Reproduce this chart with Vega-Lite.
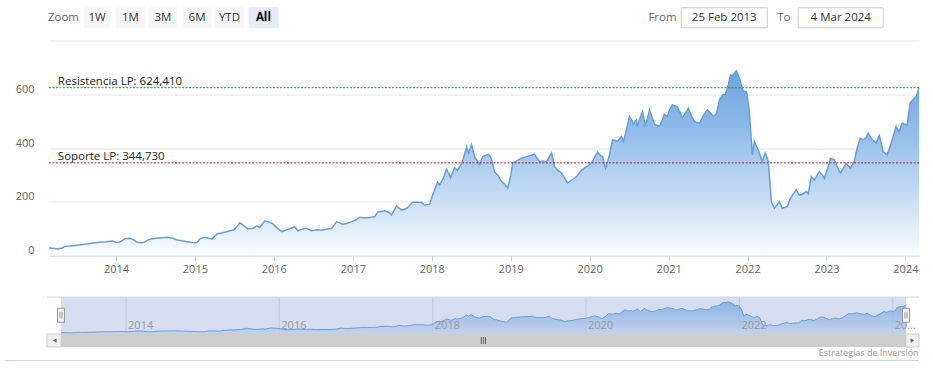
{
  "$schema": "https://vega.github.io/schema/vega-lite/v6.json",
  "width": 870,
  "height": 215,
  "autosize": {"type": "none"},
  "padding": {"left": 49, "top": 40.5, "right": 14, "bottom": 121.5},
  "background": "#ffffff",
  "config": {
    "view": {"stroke": null},
    "font": "Open Sans",
    "text": {"font": "Open Sans"},
    "axis": {"labelFont": "Open Sans"}
  },
  "datasets": {
    "main": [
      {"date":"2013-02-25","value":28},{"date":"2013-03-16","value":27},{"date":"2013-04-08","value":24},{"date":"2013-04-27","value":28},{"date":"2013-05-10","value":34},{"date":"2013-06-03","value":35},{"date":"2013-07-05","value":38},{"date":"2013-08-02","value":41},{"date":"2013-09-03","value":45},{"date":"2013-09-26","value":47},{"date":"2013-10-19","value":49},{"date":"2013-11-16","value":51},{"date":"2013-12-14","value":54},
      {"date":"2014-01-02","value":49},{"date":"2014-01-15","value":48},{"date":"2014-02-12","value":62},{"date":"2014-03-07","value":64},{"date":"2014-03-25","value":58},{"date":"2014-04-08","value":49},{"date":"2014-04-27","value":47},{"date":"2014-05-10","value":48},{"date":"2014-05-29","value":58},{"date":"2014-06-16","value":62},{"date":"2014-07-09","value":64},{"date":"2014-08-02","value":66},{"date":"2014-08-25","value":68},{"date":"2014-09-21","value":64},{"date":"2014-10-10","value":58},{"date":"2014-11-02","value":55},{"date":"2014-11-20","value":52},{"date":"2014-12-09","value":49},{"date":"2014-12-27","value":47},
      {"date":"2015-01-10","value":47},{"date":"2015-01-24","value":62},{"date":"2015-02-16","value":68},{"date":"2015-03-02","value":65},{"date":"2015-03-21","value":61},{"date":"2015-04-13","value":80},{"date":"2015-05-10","value":85},{"date":"2015-06-12","value":92},{"date":"2015-06-30","value":95},{"date":"2015-07-14","value":107},{"date":"2015-07-28","value":122},{"date":"2015-08-11","value":114},{"date":"2015-09-03","value":99},{"date":"2015-09-26","value":101},{"date":"2015-10-14","value":110},{"date":"2015-10-28","value":104},{"date":"2015-11-20","value":128},{"date":"2015-12-04","value":126},{"date":"2015-12-23","value":120},
      {"date":"2016-01-19","value":101},{"date":"2016-02-07","value":89},{"date":"2016-03-06","value":97},{"date":"2016-04-07","value":107},{"date":"2016-04-21","value":92},{"date":"2016-05-14","value":99},{"date":"2016-05-28","value":101},{"date":"2016-06-25","value":92},{"date":"2016-07-18","value":96},{"date":"2016-08-10","value":94},{"date":"2016-09-02","value":98},{"date":"2016-09-25","value":101},{"date":"2016-10-18","value":126},{"date":"2016-11-15","value":116},{"date":"2016-12-08","value":120},{"date":"2016-12-26","value":126},
      {"date":"2017-01-14","value":132},{"date":"2017-02-01","value":142},{"date":"2017-02-25","value":140},{"date":"2017-03-20","value":141},{"date":"2017-04-12","value":145},{"date":"2017-04-26","value":161},{"date":"2017-05-28","value":166},{"date":"2017-06-15","value":160},{"date":"2017-06-29","value":151},{"date":"2017-07-22","value":184},{"date":"2017-08-15","value":169},{"date":"2017-08-28","value":172},{"date":"2017-09-11","value":178},{"date":"2017-10-04","value":198},{"date":"2017-10-23","value":198},{"date":"2017-11-15","value":197},{"date":"2017-11-29","value":188},{"date":"2017-12-22","value":191},
      {"date":"2018-01-05","value":225},{"date":"2018-01-28","value":273},{"date":"2018-02-06","value":263},{"date":"2018-02-25","value":290},{"date":"2018-03-10","value":322},{"date":"2018-03-29","value":290},{"date":"2018-04-16","value":327},{"date":"2018-04-30","value":318},{"date":"2018-05-14","value":335},{"date":"2018-05-23","value":349},{"date":"2018-06-11","value":405},{"date":"2018-06-20","value":381},{"date":"2018-07-04","value":412},{"date":"2018-07-18","value":368},{"date":"2018-08-10","value":337},{"date":"2018-08-24","value":368},{"date":"2018-09-21","value":377},{"date":"2018-10-04","value":360},{"date":"2018-10-18","value":312},{"date":"2018-11-01","value":300},{"date":"2018-11-20","value":275},{"date":"2018-12-04","value":265},{"date":"2018-12-18","value":250},
      {"date":"2019-01-02","value":300},{"date":"2019-01-10","value":343},{"date":"2019-01-28","value":352},{"date":"2019-02-20","value":362},{"date":"2019-03-16","value":368},{"date":"2019-04-03","value":372},{"date":"2019-04-21","value":377},{"date":"2019-05-14","value":349},{"date":"2019-05-28","value":352},{"date":"2019-06-16","value":349},{"date":"2019-07-09","value":381},{"date":"2019-07-23","value":331},{"date":"2019-08-06","value":318},{"date":"2019-08-24","value":306},{"date":"2019-09-07","value":290},{"date":"2019-09-21","value":269},{"date":"2019-10-09","value":280},{"date":"2019-11-02","value":294},{"date":"2019-11-25","value":318},{"date":"2019-12-18","value":331},
      {"date":"2020-01-01","value":338},{"date":"2020-01-14","value":349},{"date":"2020-01-28","value":372},{"date":"2020-02-07","value":384},{"date":"2020-02-20","value":372},{"date":"2020-03-01","value":368},{"date":"2020-03-15","value":325},{"date":"2020-04-02","value":374},{"date":"2020-04-16","value":430},{"date":"2020-04-30","value":428},{"date":"2020-05-09","value":424},{"date":"2020-05-27","value":443},{"date":"2020-06-06","value":424},{"date":"2020-06-20","value":470},{"date":"2020-07-04","value":517},{"date":"2020-07-13","value":505},{"date":"2020-07-22","value":489},{"date":"2020-08-05","value":505},{"date":"2020-08-09","value":480},{"date":"2020-08-23","value":515},{"date":"2020-09-02","value":536},{"date":"2020-09-15","value":480},{"date":"2020-09-25","value":510},{"date":"2020-10-04","value":542},{"date":"2020-10-18","value":510},{"date":"2020-10-27","value":489},{"date":"2020-11-19","value":480},{"date":"2020-12-03","value":505},{"date":"2020-12-12","value":526},{"date":"2020-12-26","value":517},
      {"date":"2021-01-04","value":540},{"date":"2021-01-18","value":561},{"date":"2021-02-01","value":556},{"date":"2021-02-10","value":554},{"date":"2021-02-24","value":530},{"date":"2021-03-05","value":513},{"date":"2021-03-19","value":530},{"date":"2021-04-02","value":548},{"date":"2021-04-16","value":520},{"date":"2021-04-30","value":498},{"date":"2021-05-14","value":495},{"date":"2021-05-23","value":492},{"date":"2021-06-10","value":520},{"date":"2021-06-29","value":542},{"date":"2021-07-13","value":530},{"date":"2021-07-27","value":517},{"date":"2021-08-10","value":528},{"date":"2021-08-24","value":579},{"date":"2021-09-07","value":598},{"date":"2021-09-20","value":600},{"date":"2021-09-30","value":623},{"date":"2021-10-14","value":672},{"date":"2021-10-23","value":668},{"date":"2021-11-01","value":679},{"date":"2021-11-10","value":687},{"date":"2021-11-24","value":660},{"date":"2021-12-03","value":635},{"date":"2021-12-13","value":610},{"date":"2021-12-27","value":610},
      {"date":"2022-01-09","value":536},{"date":"2022-01-19","value":420},{"date":"2022-01-23","value":374},{"date":"2022-02-01","value":424},{"date":"2022-02-15","value":400},{"date":"2022-02-25","value":381},{"date":"2022-03-10","value":349},{"date":"2022-03-24","value":381},{"date":"2022-04-07","value":349},{"date":"2022-04-21","value":200},{"date":"2022-05-05","value":176},{"date":"2022-05-19","value":190},{"date":"2022-05-28","value":200},{"date":"2022-06-11","value":176},{"date":"2022-06-25","value":180},{"date":"2022-07-04","value":182},{"date":"2022-07-18","value":213},{"date":"2022-08-01","value":230},{"date":"2022-08-14","value":244},{"date":"2022-08-28","value":225},{"date":"2022-09-11","value":228},{"date":"2022-09-30","value":238},{"date":"2022-10-09","value":230},{"date":"2022-10-23","value":294},{"date":"2022-11-06","value":281},{"date":"2022-11-20","value":300},{"date":"2022-11-29","value":312},{"date":"2022-12-13","value":300},{"date":"2022-12-22","value":287},
      {"date":"2023-01-09","value":330},{"date":"2023-01-19","value":362},{"date":"2023-02-06","value":356},{"date":"2023-02-20","value":330},{"date":"2023-03-06","value":306},{"date":"2023-03-20","value":325},{"date":"2023-04-02","value":343},{"date":"2023-04-21","value":325},{"date":"2023-05-09","value":349},{"date":"2023-05-23","value":400},{"date":"2023-06-06","value":436},{"date":"2023-06-20","value":430},{"date":"2023-07-04","value":440},{"date":"2023-07-13","value":455},{"date":"2023-08-01","value":430},{"date":"2023-08-19","value":418},{"date":"2023-09-02","value":446},{"date":"2023-09-11","value":420},{"date":"2023-09-20","value":387},{"date":"2023-10-09","value":374},{"date":"2023-10-27","value":418},{"date":"2023-11-19","value":480},{"date":"2023-12-03","value":461},{"date":"2023-12-17","value":492},
      {"date":"2024-01-02","value":488},{"date":"2024-01-09","value":486},{"date":"2024-01-23","value":567},{"date":"2024-02-11","value":585},{"date":"2024-02-20","value":592},{"date":"2024-03-04","value":623}
    ],
    "levels": [
      {"name":"Resistencia LP: 624,410","level":624.41,"anchor":"2013-04-07","kind":"res"},
      {"name":"Soporte LP: 344,730","level":344.73,"anchor":"2013-04-07","kind":"sop"}
    ],
    "uiBoxes": [
      {"label":"1W","a":"2013-08-06","b":"2013-12-04","c":"2013-10-05","kind":"btn"},
      {"label":"1M","a":"2014-01-01","b":"2014-05-15","c":"2014-03-09","kind":"btn"},
      {"label":"3M","a":"2014-06-03","b":"2014-10-10","c":"2014-08-06","kind":"btn"},
      {"label":"6M","a":"2014-11-07","b":"2015-03-17","c":"2015-01-11","kind":"btn"},
      {"label":"YTD","a":"2015-04-04","b":"2015-08-16","c":"2015-06-10","kind":"btn"},
      {"label":"All","a":"2015-09-08","b":"2016-01-21","c":"2015-11-14","kind":"sel"},
      {"label":"25 Feb 2013","a":"2021-02-28","b":"2022-04-02","c":"2021-09-15","kind":"input"},
      {"label":"4 Mar 2024","a":"2022-08-23","b":"2023-09-20","c":"2023-03-08","kind":"input"}
    ],
    "uiLabels": [
      {"label":"Zoom","a":"2013-02-20"},
      {"label":"From","a":"2020-09-29"},
      {"label":"To","a":"2022-05-18"}
    ],
    "navTicks": [
      {"date":"2014-01-01","label":"2014"},
      {"date":"2016-01-01","label":"2016"},
      {"date":"2018-01-01","label":"2018"},
      {"date":"2020-01-01","label":"2020"},
      {"date":"2022-01-01","label":"2022"},
      {"date":"2024-01-01","label":"2024"}
    ],
    "navEdges": [
      {"date":"2013-02-25"},
      {"date":"2024-03-04"}
    ],
    "scrollButtons": [
      {"a":"2012-12-20","b":"2013-02-25","c":"2013-01-26","dir":"left"},
      {"a":"2024-03-04","b":"2024-05-05","c":"2024-04-04","dir":"right"}
    ]
  },
  "layer": [
    {
      "layer": [
        {
          "data": {"name": "main"},
          "mark": {
            "type": "area",
            "fill": {"gradient": "linear", "x1": 0, "y1": 0, "x2": 0, "y2": 1,
              "stops": [
                {"offset": 0, "color": "#6aa3e2"},
                {"offset": 0.27, "color": "#8ab7e8"},
                {"offset": 0.7, "color": "#c9def4"},
                {"offset": 1, "color": "#fbfdff"}
              ]}
          },
          "encoding": {
            "x": {
              "field": "date", "type": "temporal", "title": null,
              "scale": {"type": "utc", "nice": false,
                "domain": [{"year": 2013, "month": 2, "date": 25, "utc": true}, {"year": 2024, "month": 3, "date": 4, "utc": true}]},
              "axis": {
                "title": null, "format": "%Y", "grid": false,
                "values": [
                  {"year": 2014, "utc": true}, {"year": 2015, "utc": true}, {"year": 2016, "utc": true},
                  {"year": 2017, "utc": true}, {"year": 2018, "utc": true}, {"year": 2019, "utc": true},
                  {"year": 2020, "utc": true}, {"year": 2021, "utc": true}, {"year": 2022, "utc": true},
                  {"year": 2023, "utc": true}, {"year": 2024, "utc": true}
                ],
                "domainColor": "#ccd6eb", "tickColor": "#ccd6eb", "tickSize": 5,
                "labelColor": "#666666", "labelFontSize": 11, "labelPadding": 3, "labelFlush": false
              }
            },
            "y": {
              "field": "value", "type": "quantitative", "title": null,
              "scale": {"domain": [0, 800], "nice": false, "zero": true},
              "axis": {
                "title": null, "values": [0, 200, 400, 600, 800],
                "labelExpr": "datum.value == 800 ? '' : datum.label",
                "grid": true, "gridColor": "#e6e6e6", "domain": false, "ticks": false,
                "labelPadding": 15, "labelColor": "#666666", "labelFontSize": 11,
                "labelOffset": -5, "labelBaseline": "middle"
              }
            }
          }
        },
        {
          "data": {"name": "main"},
          "mark": {"type": "line", "color": "#6a9fd6", "strokeWidth": 1.5},
          "encoding": {
            "x": {"field": "date", "type": "temporal", "title": null},
            "y": {"field": "value", "type": "quantitative", "title": null}
          }
        },
        {
          "data": {"name": "levels"},
          "mark": {"type": "rule", "strokeDash": [2, 1.5], "strokeWidth": 1},
          "encoding": {
            "y": {"field": "level", "type": "quantitative", "title": null},
            "color": {"field": "kind", "type": "nominal", "legend": null,
              "scale": {"domain": ["res", "sop"], "range": ["#3a8a3a", "#b01e32"]}}
          }
        },
        {
          "data": {"name": "levels"},
          "mark": {"type": "text", "align": "left", "baseline": "bottom", "dy": -1, "fontSize": 11.5, "color": "#222222"},
          "encoding": {
            "x": {"field": "anchor", "type": "temporal", "title": null},
            "y": {"field": "level", "type": "quantitative", "title": null},
            "text": {"field": "name"}
          }
        },
        {
          "data": {"name": "uiBoxes"},
          "mark": {"type": "rect", "strokeWidth": 1},
          "encoding": {
            "x": {"field": "a", "type": "temporal", "title": null},
            "x2": {"field": "b"},
            "y": {"datum": 847.3, "type": "quantitative", "title": null},
            "y2": {"datum": 921.8},
            "fill": {"field": "kind", "type": "nominal", "legend": null,
              "scale": {"domain": ["btn", "sel", "input"], "range": ["#f7f7f7", "#e6ebf5", "#ffffff"]}},
            "stroke": {"field": "kind", "type": "nominal", "legend": null,
              "scale": {"domain": ["btn", "sel", "input"], "range": ["#f7f7f7", "#e6ebf5", "#cccccc"]}}
          }
        },
        {
          "data": {"name": "uiBoxes"},
          "transform": [{"filter": "datum.kind != 'sel'"}],
          "mark": {"type": "text", "align": "center", "baseline": "middle", "fontSize": 11.5, "color": "#333333"},
          "encoding": {
            "x": {"field": "c", "type": "temporal", "title": null},
            "y": {"datum": 884.5, "type": "quantitative", "title": null},
            "text": {"field": "label"}
          }
        },
        {
          "data": {"name": "uiBoxes"},
          "transform": [{"filter": "datum.kind == 'sel'"}],
          "mark": {"type": "text", "align": "center", "baseline": "middle", "fontSize": 11.5, "fontWeight": "bold", "color": "#000000"},
          "encoding": {
            "x": {"field": "c", "type": "temporal", "title": null},
            "y": {"datum": 884.5, "type": "quantitative", "title": null},
            "text": {"field": "label"}
          }
        },
        {
          "data": {"name": "uiLabels"},
          "mark": {"type": "text", "align": "left", "baseline": "middle", "fontSize": 11.5, "color": "#666666"},
          "encoding": {
            "x": {"field": "a", "type": "temporal", "title": null},
            "y": {"datum": 884.5, "type": "quantitative", "title": null},
            "text": {"field": "label"}
          }
        }
      ]
    },
    {
      "layer": [
        {
          "data": {"values": [{}]},
          "mark": {"type": "rect", "fill": "#d5ddee"},
          "encoding": {
            "x": {"datum": {"year": 2013, "month": 2, "date": 25, "utc": true}, "type": "temporal", "axis": null,
              "scale": {"type": "utc", "nice": false, "range": [12, 857],
                "domain": [{"year": 2013, "month": 2, "date": 25, "utc": true}, {"year": 2024, "month": 3, "date": 4, "utc": true}]}},
            "x2": {"datum": {"year": 2024, "month": 3, "date": 4, "utc": true}},
            "y": {"datum": 0, "type": "quantitative", "axis": null,
              "scale": {"domain": [0, 790], "nice": false, "zero": false, "range": [293.5, 256.5]}},
            "y2": {"datum": 790}
          }
        },
        {
          "data": {"name": "navTicks"},
          "mark": {"type": "rule", "color": "#c4cbdc", "strokeWidth": 1},
          "encoding": {
            "x": {"field": "date", "type": "temporal", "axis": null},
            "y": {"datum": 0, "type": "quantitative", "axis": null},
            "y2": {"datum": 790}
          }
        },
        {
          "data": {"name": "main"},
          "mark": {
            "type": "area",
            "fill": {"gradient": "linear", "x1": 0, "y1": 0, "x2": 0, "y2": 1,
              "stops": [
                {"offset": 0, "color": "#6fa3e0"},
                {"offset": 1, "color": "#b9cdec"}
              ]},
            "line": {"color": "#6a9fd8", "strokeWidth": 1}
          },
          "encoding": {
            "x": {"field": "date", "type": "temporal", "axis": null},
            "y": {"field": "value", "type": "quantitative", "axis": null}
          }
        },
        {
          "data": {"name": "navTicks"},
          "transform": [{"filter": "datum.label != '2024'"}],
          "mark": {"type": "text", "align": "left", "baseline": "middle", "dx": 2, "fontSize": 11, "color": "#9a9a9a"},
          "encoding": {
            "x": {"field": "date", "type": "temporal", "axis": null},
            "y": {"datum": 171, "type": "quantitative", "axis": null},
            "text": {"field": "label"}
          }
        },
        {
          "data": {"name": "navTicks"},
          "transform": [{"filter": "datum.label == '2024'"}],
          "mark": {"type": "text", "align": "left", "baseline": "middle", "dx": 2, "fontSize": 11, "color": "#9a9a9a", "limit": 24},
          "encoding": {
            "x": {"field": "date", "type": "temporal", "axis": null},
            "y": {"datum": 171, "type": "quantitative", "axis": null},
            "text": {"field": "label"}
          }
        },
        {
          "data": {"values": [{}]},
          "mark": {"type": "rule", "color": "#d9d9d9", "strokeWidth": 1},
          "encoding": {
            "x": {"datum": {"year": 2012, "month": 12, "date": 20, "utc": true}, "type": "temporal", "axis": null},
            "x2": {"datum": {"year": 2024, "month": 5, "date": 5, "utc": true}},
            "y": {"datum": 790, "type": "quantitative", "axis": null}
          }
        },
        {
          "data": {"values": [{}]},
          "mark": {"type": "rect", "fill": "#cdcdcd"},
          "encoding": {
            "x": {"datum": {"year": 2012, "month": 12, "date": 20, "utc": true}, "type": "temporal", "axis": null},
            "x2": {"datum": {"year": 2024, "month": 5, "date": 5, "utc": true}},
            "y": {"datum": 0, "type": "quantitative", "axis": null},
            "y2": {"datum": -277.6}
          }
        },
        {
          "data": {"name": "scrollButtons"},
          "mark": {"type": "rect", "fill": "#f0f0f0", "stroke": "#cccccc", "strokeWidth": 1},
          "encoding": {
            "x": {"field": "a", "type": "temporal", "axis": null},
            "x2": {"field": "b"},
            "y": {"datum": 0, "type": "quantitative", "axis": null},
            "y2": {"datum": -277.6}
          }
        },
        {
          "data": {"name": "scrollButtons"},
          "mark": {"type": "point", "filled": true, "size": 20, "color": "#333333"},
          "encoding": {
            "x": {"field": "c", "type": "temporal", "axis": null},
            "y": {"datum": -139, "type": "quantitative", "axis": null},
            "shape": {"field": "dir", "type": "nominal", "legend": null,
              "scale": {"domain": ["left", "right"], "range": ["triangle-left", "triangle-right"]}}
          }
        },
        {
          "data": {"values": [{}]},
          "mark": {"type": "point", "filled": false, "size": 49, "color": "#333333", "strokeWidth": 1,
            "shape": "M-0.6,-1L-0.6,1M0,-1L0,1M0.6,-1L0.6,1"},
          "encoding": {
            "x": {"datum": {"year": 2018, "month": 8, "date": 30, "utc": true}, "type": "temporal", "axis": null},
            "y": {"datum": -139, "type": "quantitative", "axis": null}
          }
        },
        {
          "data": {"name": "navEdges"},
          "mark": {"type": "point", "filled": true, "size": 196, "fill": "#f2f2f2", "stroke": "#999999", "strokeWidth": 1, "opacity": 1,
            "shape": "M-0.5,-1L0.5,-1L0.5,1L-0.5,1Z M-0.15,-0.45L-0.15,0.45 M0.15,-0.45L0.15,0.45"},
          "encoding": {
            "x": {"field": "date", "type": "temporal", "axis": null},
            "y": {"datum": 400, "type": "quantitative", "axis": null}
          }
        },
        {
          "data": {"values": [{}]},
          "mark": {"type": "text", "align": "right", "baseline": "middle", "fontSize": 9, "color": "#999999", "text": "Estrategias de Inversión"},
          "encoding": {
            "x": {"datum": {"year": 2024, "month": 5, "date": 3, "utc": true}, "type": "temporal", "axis": null},
            "y": {"datum": -406, "type": "quantitative", "axis": null}
          }
        },
        {
          "data": {"values": [{}]},
          "mark": {"type": "rule", "color": "#cfd4e0", "strokeWidth": 1},
          "encoding": {
            "x": {"datum": {"year": 2012, "month": 6, "date": 2, "utc": true}, "type": "temporal", "axis": null},
            "x2": {"datum": {"year": 2024, "month": 5, "date": 5, "utc": true}},
            "y": {"datum": -566, "type": "quantitative", "axis": null}
          }
        }
      ]
    }
  ],
  "resolve": {"scale": {"x": "independent", "y": "independent"}}
}
